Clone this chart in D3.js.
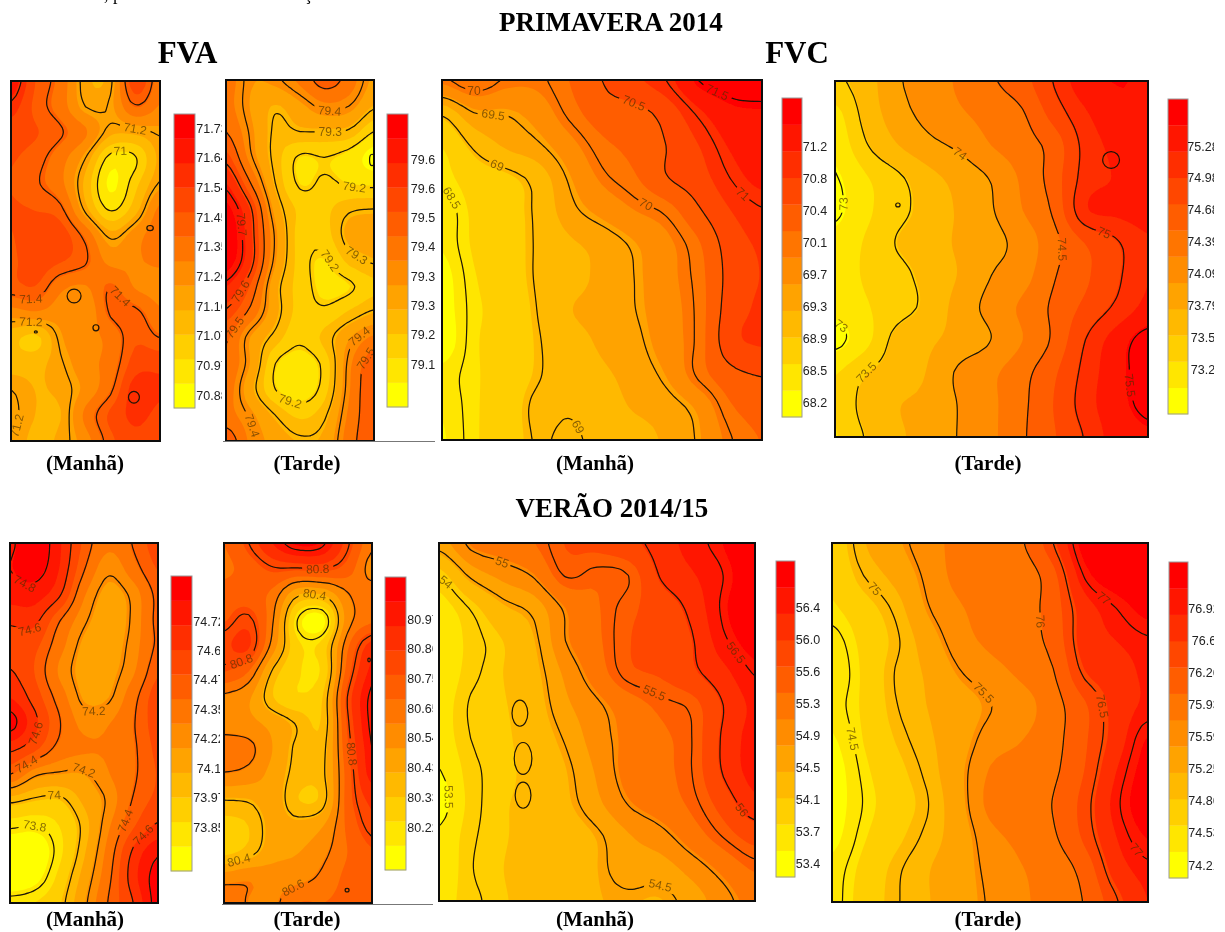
<!DOCTYPE html>
<html>
<head>
<meta charset="utf-8">
<script src="https://cdn.jsdelivr.net/npm/d3@7"></script>
<style>
  body { margin: 0; background: #fff; }
</style>
</head>
<body>
<script>
// colour bands of the legends, bottom to top
const bandColors = ['#ffff00', '#ffe600', '#ffcf00', '#ffb900', '#ffa300', '#ff8c00',
    '#ff7500', '#ff5d00', '#ff4600', '#ff2e00', '#ff1700', '#ff0000'];

// grids, top row first
const fvaManhaPrim = [
    71.68, 71.46, 71.36, 71.17, 71.18, 71.52, 71.34,
    71.58, 71.44, 71.35, 71.20, 71.21, 71.39, 71.30,
    71.50, 71.47, 71.41, 71.32, 71.17, 71.17, 71.21,
    71.47, 71.43, 71.34, 71.20, 70.97, 70.99, 71.17,
    71.46, 71.41, 71.33, 71.13, 70.90, 71.05, 71.21,
    71.47, 71.46, 71.42, 71.18, 70.99, 71.12, 71.33,
    71.46, 71.50, 71.50, 71.37, 71.18, 71.27, 71.36,
    71.45, 71.50, 71.47, 71.41, 71.28, 71.30, 71.32,
    71.44, 71.46, 71.33, 71.30, 71.40, 71.30, 71.28,
    71.27, 71.30, 71.26, 71.24, 71.41, 71.42, 71.32,
    71.10, 71.05, 71.22, 71.28, 71.33, 71.45, 71.40,
    71.12, 71.13, 71.19, 71.28, 71.34, 71.50, 71.52,
    71.20, 71.15, 71.17, 71.25, 71.38, 71.58, 71.55,
    71.22, 71.15, 71.15, 71.33, 71.48, 71.56, 71.52,
    71.20, 71.13, 71.17, 71.27, 71.44, 71.52, 71.48];
const fvaTardePrim = [
    79.47, 79.38, 79.39, 79.45, 79.53, 79.47, 79.36,
    79.46, 79.37, 79.31, 79.36, 79.42, 79.40, 79.31,
    79.50, 79.39, 79.29, 79.30, 79.30, 79.29, 79.20,
    79.58, 79.41, 79.28, 79.19, 79.20, 79.17, 79.10,
    79.68, 79.50, 79.30, 79.19, 79.21, 79.19, 79.18,
    79.76, 79.61, 79.35, 79.24, 79.24, 79.29, 79.30,
    79.80, 79.63, 79.39, 79.23, 79.23, 79.33, 79.34,
    79.78, 79.63, 79.38, 79.23, 79.19, 79.27, 79.31,
    79.68, 79.55, 79.33, 79.23, 79.18, 79.19, 79.24,
    79.59, 79.48, 79.33, 79.23, 79.21, 79.26, 79.31,
    79.51, 79.37, 79.28, 79.21, 79.27, 79.37, 79.45,
    79.49, 79.37, 79.20, 79.17, 79.22, 79.42, 79.54,
    79.47, 79.33, 79.20, 79.16, 79.23, 79.43, 79.56,
    79.46, 79.39, 79.30, 79.24, 79.29, 79.45, 79.55,
    79.55, 79.42, 79.35, 79.31, 79.33, 79.47, 79.55];
const fvcManhaPrim = [
    69.95, 70.20, 69.97, 69.95, 70.20, 70.50, 70.75, 71.00, 71.50, 71.65, 71.70,
    69.05, 69.50, 69.52, 69.70, 70.07, 70.35, 70.40, 70.62, 71.05, 71.35, 71.40,
    68.65, 69.05, 69.30, 69.46, 69.78, 70.12, 70.28, 70.50, 70.80, 71.15, 71.30,
    68.55, 68.80, 68.90, 69.10, 69.55, 69.93, 70.15, 70.48, 70.68, 71.00, 71.20,
    68.35, 68.70, 68.85, 69.05, 69.42, 69.65, 69.87, 70.05, 70.45, 70.80, 70.98,
    68.35, 68.68, 68.83, 69.03, 69.22, 69.35, 69.55, 69.80, 70.15, 70.65, 70.85,
    68.22, 68.62, 68.80, 69.03, 69.15, 69.33, 69.50, 69.78, 70.08, 70.60, 70.82,
    68.20, 68.58, 68.76, 69.01, 69.25, 69.35, 69.49, 69.75, 70.05, 70.65, 70.85,
    68.15, 68.60, 68.75, 68.98, 69.15, 69.30, 69.42, 69.72, 70.05, 70.70, 70.85,
    68.40, 68.60, 68.80, 68.98, 69.12, 69.22, 69.35, 69.58, 70.05, 70.40, 70.52,
    68.35, 68.60, 68.82, 69.05, 69.03, 69.15, 69.28, 69.38, 69.62, 70.15, 70.32,
    68.30, 68.60, 68.82, 69.02, 68.95, 69.10, 69.15, 69.30, 69.53, 69.97, 70.20];
const fvcTardePrim = [
    73.45, 73.65, 73.97, 74.10, 74.30, 74.47, 74.65, 75.02, 75.40, 75.48, 75.45,
    73.20, 73.60, 73.90, 74.08, 74.22, 74.35, 74.48, 74.85, 75.20, 75.42, 75.45,
    73.10, 73.48, 73.75, 73.93, 74.05, 74.25, 74.40, 74.60, 75.08, 75.30, 75.40,
    72.98, 73.25, 73.45, 73.68, 73.85, 74.02, 74.30, 74.62, 75.10, 75.25, 75.38,
    72.95, 73.22, 73.43, 73.60, 73.80, 73.98, 74.25, 74.55, 75.20, 75.28, 75.35,
    73.10, 73.30, 73.52, 73.65, 73.80, 73.92, 74.10, 74.42, 74.75, 74.97, 75.20,
    73.15, 73.30, 73.42, 73.60, 73.78, 74.00, 74.15, 74.48, 74.70, 74.95, 75.22,
    73.10, 73.25, 73.40, 73.58, 73.87, 74.08, 74.30, 74.55, 74.80, 75.05, 75.30,
    72.92, 73.20, 73.60, 73.72, 73.85, 74.00, 74.25, 74.55, 75.00, 75.35, 75.60,
    73.25, 73.50, 73.63, 73.78, 74.05, 74.20, 74.42, 74.70, 75.08, 75.40, 75.60,
    73.30, 73.60, 73.75, 73.82, 74.02, 74.20, 74.45, 74.75, 75.12, 75.40, 75.55,
    73.25, 73.52, 73.72, 73.85, 74.02, 74.20, 74.47, 74.72, 75.02, 75.35, 75.45];
const fvaManhaVer = [
    74.78, 74.88, 74.72, 74.47, 74.31, 74.41, 74.55,
    74.80, 74.85, 74.70, 74.41, 74.22, 74.35, 74.50,
    74.75, 74.75, 74.62, 74.30, 74.15, 74.23, 74.43,
    74.62, 74.63, 74.41, 74.22, 74.13, 74.22, 74.43,
    74.55, 74.52, 74.33, 74.16, 74.13, 74.24, 74.42,
    74.61, 74.49, 74.27, 74.15, 74.15, 74.27, 74.48,
    74.70, 74.55, 74.35, 74.17, 74.18, 74.36, 74.55,
    74.85, 74.63, 74.41, 74.25, 74.28, 74.39, 74.55,
    74.63, 74.52, 74.36, 74.30, 74.30, 74.38, 74.52,
    74.40, 74.22, 74.18, 74.18, 74.28, 74.38, 74.50,
    74.03, 73.98, 73.97, 74.10, 74.22, 74.41, 74.52,
    73.82, 73.80, 73.87, 74.03, 74.27, 74.48, 74.62,
    73.68, 73.68, 73.84, 74.06, 74.33, 74.62, 74.78,
    73.66, 73.72, 73.90, 74.12, 74.37, 74.66, 74.85,
    73.84, 73.87, 73.96, 74.17, 74.41, 74.60, 74.85];
const fvaTardeVer = [
    80.68, 80.80, 80.95, 81.05, 81.02, 80.82, 80.62,
    80.66, 80.72, 80.79, 80.79, 80.80, 80.73, 80.56,
    80.72, 80.72, 80.65, 80.42, 80.42, 80.59, 80.65,
    80.76, 80.82, 80.60, 80.19, 80.12, 80.55, 80.66,
    80.84, 80.87, 80.55, 80.26, 80.28, 80.66, 80.90,
    80.77, 80.68, 80.38, 80.25, 80.26, 80.72, 80.97,
    80.58, 80.52, 80.33, 80.25, 80.33, 80.80, 81.02,
    80.55, 80.53, 80.47, 80.39, 80.34, 80.78, 81.02,
    80.66, 80.63, 80.50, 80.38, 80.37, 80.75, 81.00,
    80.59, 80.56, 80.47, 80.37, 80.38, 80.72, 80.98,
    80.40, 80.41, 80.46, 80.33, 80.36, 80.72, 80.88,
    80.30, 80.33, 80.45, 80.44, 80.50, 80.70, 80.83,
    80.30, 80.36, 80.47, 80.50, 80.57, 80.68, 80.76,
    80.55, 80.58, 80.55, 80.56, 80.62, 80.70, 80.72,
    80.68, 80.59, 80.58, 80.68, 80.68, 80.70, 80.70];
const fvcManhaVer = [
    54.60, 55.08, 55.20, 55.35, 55.68, 55.75, 55.90, 56.12, 56.40, 56.60, 56.85,
    54.00, 54.55, 54.82, 55.03, 55.52, 55.42, 55.50, 56.02, 56.25, 56.50, 56.78,
    53.68, 54.02, 54.38, 54.58, 55.05, 55.33, 55.60, 55.80, 56.08, 56.55, 56.78,
    53.55, 53.90, 54.12, 54.42, 55.00, 55.30, 55.65, 55.80, 55.97, 56.45, 56.70,
    53.58, 53.93, 54.12, 54.35, 54.80, 55.20, 55.60, 55.70, 55.92, 56.20, 56.52,
    53.65, 54.03, 54.10, 54.30, 54.68, 54.95, 55.20, 55.42, 55.55, 56.00, 56.35,
    53.65, 54.00, 54.08, 54.25, 54.53, 54.88, 55.12, 55.30, 55.50, 56.05, 56.40,
    53.48, 53.93, 54.07, 54.20, 54.42, 54.78, 55.15, 55.28, 55.50, 56.03, 56.40,
    53.35, 53.90, 54.10, 54.18, 54.38, 54.68, 55.02, 55.20, 55.42, 55.80, 56.20,
    53.55, 53.95, 54.10, 54.20, 54.28, 54.45, 54.72, 54.90, 55.20, 55.52, 55.80,
    53.55, 53.98, 54.12, 54.22, 54.30, 54.43, 54.62, 54.62, 54.85, 55.13, 55.40,
    53.70, 53.93, 54.10, 54.20, 54.30, 54.42, 54.45, 54.42, 54.60, 54.90, 55.15];
const fvcTardeVer = [
    74.70, 75.15, 75.40, 75.62, 75.80, 75.85, 75.97, 76.50, 77.25, 77.30, 77.40,
    74.65, 75.00, 75.25, 75.55, 75.80, 75.85, 75.85, 76.20, 77.03, 77.30, 77.35,
    74.58, 74.78, 75.05, 75.47, 75.70, 75.82, 75.87, 76.15, 76.72, 77.00, 77.22,
    74.42, 74.68, 74.95, 75.30, 75.62, 75.78, 75.88, 76.10, 76.70, 76.85, 76.97,
    74.35, 74.65, 75.01, 75.20, 75.47, 75.63, 75.78, 75.98, 76.55, 76.72, 76.90,
    74.42, 74.65, 74.98, 75.17, 75.32, 75.49, 75.62, 75.88, 76.25, 76.68, 76.90,
    74.30, 74.62, 74.90, 75.12, 75.33, 75.60, 75.72, 75.90, 76.25, 76.70, 77.15,
    74.20, 74.55, 74.80, 75.05, 75.38, 75.75, 75.85, 75.95, 76.30, 76.85, 77.25,
    74.20, 74.51, 74.75, 74.98, 75.35, 75.80, 75.90, 76.01, 76.40, 76.95, 77.30,
    74.25, 74.58, 74.82, 75.05, 75.30, 75.65, 75.80, 75.96, 76.35, 76.85, 77.15,
    74.40, 74.68, 74.95, 75.15, 75.32, 75.57, 75.72, 75.83, 76.12, 76.70, 76.95,
    74.42, 74.72, 74.97, 75.15, 75.32, 75.53, 75.70, 75.80, 76.02, 76.47, 76.85];

// value range covered by each legend bar
const rangeFvaManhaPrim = [70.84, 71.775];
const rangeFvaTardePrim = [79.07, 79.80];
const rangeFvcManhaPrim = [68.02, 71.74];
const rangeFvcTardePrim = [72.78, 75.72];
const rangeFvaManhaVer = [73.66, 74.91];
const rangeFvaTardeVer = [80.065, 81.12];
const rangeFvcManhaVer = [53.2, 56.9];
const rangeFvcTardeVer = [74.05, 77.41];

// legend tick labels, top to bottom
const ticksFvaManhaPrim = ['71.73', '71.64', '71.54', '71.45', '71.35', '71.26', '71.16', '71.07', '70.97', '70.88'];
const ticksFvaTardePrim = ['79.6', '79.6', '79.5', '79.4', '79.3', '79.3', '79.2', '79.1'];
const ticksFvcManhaPrim = ['71.2', '70.8', '70.4', '70.1', '69.7', '69.3', '68.9', '68.5', '68.2'];
const ticksFvcTardePrim = ['75.28', '74.98', '74.68', '74.39', '74.09', '73.79', '73.5', '73.2'];
const ticksFvaManhaVer = ['74.72', '74.6', '74.47', '74.35', '74.22', '74.1', '73.97', '73.85'];
const ticksFvaTardeVer = ['80.97', '80.86', '80.75', '80.65', '80.54', '80.43', '80.33', '80.22'];
const ticksFvcManhaVer = ['56.4', '56.0', '55.6', '55.3', '54.9', '54.5', '54.1', '53.7', '53.4'];
const ticksFvcTardeVer = ['76.92', '76.6', '76.26', '75.93', '75.59', '75.25', '74.86', '74.53', '74.21'];

// levels of the black isolines
const linesFvaManhaPrim = [71, 71.2, 71.4, 71.6];
const linesFvaTardePrim = [79.2, 79.3, 79.4, 79.5, 79.6, 79.7];
const linesFvcManhaPrim = [68.5, 69, 69.5, 70, 70.5, 71, 71.5];
const linesFvcTardePrim = [73, 73.5, 74, 74.5, 75, 75.5];
const linesFvaManhaVer = [73.8, 74, 74.2, 74.4, 74.6, 74.8];
const linesFvaTardeVer = [80.2, 80.4, 80.6, 80.8, 81];
const linesFvcManhaVer = [53.5, 54, 54.5, 55, 55.5, 56, 56.5];
const linesFvcTardeVer = [74.5, 75, 75.5, 76, 76.5, 77];

// isoline labels: level, then grid column and row near where it sits
const spotsFvaManhaPrim = [[71.2, 4.95, 1.71], [71, 4.43, 2.8], [71.4, .77, 8.4], [71.2, .81, 9.3], [71.4, 4.31, 8.32], [71.2, .36, 13.4]];
const spotsFvaTardePrim = [[79.4, 4.09, 1.4], [79.3, 4.22, 2.09], [79.2, 5.27, 4.07], [79.3, 5.47, 6.47], [79.2, 4.13, 7.05], [79.7, .57, 5.7],
    [79.6, .49, 8.26], [79.5, .49, 9.69], [79.4, 1.26, 13.37], [79.2, 2.8, 12.13], [79.4, 5.43, 9.88], [79.5, 5.63, 10.78]];
const spotsFvcManhaPrim = [[70, 1.03, .52], [69.5, 1.5, 1], [69, 1.66, 2.69], [68.5, .19, 3.67], [70.5, 5.88, .73], [70, 6.25, 3.85],
    [71, 9.38, 3.52], [71.5, 8.56, .37], [69, 4.16, 10.7]];
const spotsFvcTardePrim = [[74, 4.12, 2.28], [74.5, 6.87, 5.15], [75, 8.56, 4.63], [73.5, .86, 8.98], [73, .1, 3.83], [73, .32, 7.28], [75.5, 9.8, 9.3]];
const spotsFvaManhaVer = [[74.8, .69, 1.32], [74.6, .73, 3.38], [74.2, 3.36, 6.5], [74.6, .93, 7.39], [74.4, .69, 8.63], [74.2, 2.92, 8.87],
    [74, 1.74, 9.8], [73.8, 1.05, 11.05], [74.4, 4.66, 10.77], [74.6, 5.47, 11.36]];
const spotsFvaTardeVer = [[80.8, 3.89, .93], [80.4, 3.69, 1.98], [80.8, .65, 4.55], [80.8, 5.11, 8.25], [80.4, .69, 12.4], [80.6, 2.84, 13.65]];
const spotsFvcManhaVer = [[55, 1.96, .65], [54, .35, 1.23], [55.5, 6.9, 4.58], [56.5, 9.37, 3.29], [56, 9.68, 8.06], [53.5, .16, 7.75], [54.5, 6.99, 10.49]];
const spotsFvcTardeVer = [[75, 1.33, 1.32], [77, 8.6, 1.75], [76, 6.68, 2.36], [75.5, 4.62, 4.79], [76.5, 8.45, 5], [74.5, .54, 6.1], [77, 9.65, 9.36]];

// closed isolines too small for the grid: column, row, half width, half height
const ringsFvaManhaPrim = [[2.54, 8.36, .28, .27], [3.42, 9.6, .12, .12], [5.6, 5.72, .13, .1], [4.95, 12.3, .22, .23], [1, 9.76, .06, .04]];
const ringsFvaTardePrim = [[5.92, 3.1, .1, .22]];
const ringsFvcTardePrim = [[8.82, 2.44, .27, .26], [2.01, 3.83, .07, .06]];
const ringsFvaTardeVer = [[4.99, 13.5, .08, .07], [5.88, 4.55, .05, .07]];
const ringsFvcManhaVer = [[2.56, 5.23, .25, .4], [2.66, 6.62, .28, .49], [2.66, 7.75, .25, .4]];

const panels = [
    { grid: fvaManhaPrim, cols: 7, box: [11, 81, 160, 441], bar: [174, 195, 114, 408], tickX: 212, clipX: 222, tickY: [128, 395], range: rangeFvaManhaPrim, ticks: ticksFvaManhaPrim, lines: linesFvaManhaPrim, spots: spotsFvaManhaPrim, rings: ringsFvaManhaPrim },
    { grid: fvaTardePrim, cols: 7, box: [226, 80, 374, 441], bar: [387, 408, 114, 407], tickX: 423, clipX: 436, tickY: [159, 364], range: rangeFvaTardePrim, ticks: ticksFvaTardePrim, lines: linesFvaTardePrim, spots: spotsFvaTardePrim, rings: ringsFvaTardePrim },
    { grid: fvcManhaPrim, cols: 11, box: [442, 80, 762, 440], bar: [782, 802, 98, 417], tickX: 815, clipX: 829, tickY: [146, 402], range: rangeFvcManhaPrim, ticks: ticksFvcManhaPrim, lines: linesFvcManhaPrim, spots: spotsFvcManhaPrim, rings: [] },
    { grid: fvcTardePrim, cols: 11, box: [835, 81, 1148, 437], bar: [1168, 1188, 99, 414], tickX: 1203, clipX: 1214, tickY: [146, 369], range: rangeFvcTardePrim, ticks: ticksFvcTardePrim, lines: linesFvcTardePrim, spots: spotsFvcTardePrim, rings: ringsFvcTardePrim },
    { grid: fvaManhaVer, cols: 7, box: [10, 543, 158, 903], bar: [171, 192, 576, 871], tickX: 209, clipX: 220, tickY: [621, 827], range: rangeFvaManhaVer, ticks: ticksFvaManhaVer, lines: linesFvaManhaVer, spots: spotsFvaManhaVer, rings: [] },
    { grid: fvaTardeVer, cols: 7, box: [224, 543, 372, 903], bar: [385, 406, 577, 870], tickX: 423, clipX: 433, tickY: [619, 827], range: rangeFvaTardeVer, ticks: ticksFvaTardeVer, lines: linesFvaTardeVer, spots: spotsFvaTardeVer, rings: ringsFvaTardeVer },
    { grid: fvcManhaVer, cols: 11, box: [439, 543, 755, 901], bar: [776, 795, 561, 877], tickX: 808, clipX: 822, tickY: [607, 863], range: rangeFvcManhaVer, ticks: ticksFvcManhaVer, lines: linesFvcManhaVer, spots: spotsFvcManhaVer, rings: ringsFvcManhaVer },
    { grid: fvcTardeVer, cols: 11, box: [832, 543, 1148, 902], bar: [1169, 1188, 562, 878], tickX: 1204, clipX: 1214, tickY: [608, 865], range: rangeFvcTardeVer, ticks: ticksFvcTardeVer, lines: linesFvcTardeVer, spots: spotsFvcTardeVer, rings: [] }
];

const svg = d3.select('body').append('svg')
    .attr('width', 1225)
    .attr('height', 932);

const defs = svg.append('defs');
defs.append('filter').attr('id', 'soft')
    .attr('filterUnits', 'userSpaceOnUse')
    .attr('x', 0).attr('y', 0).attr('width', 1225).attr('height', 932)
    .append('feGaussianBlur').attr('stdDeviation', 0.55);

const root = svg.append('g').attr('filter', 'url(#soft)');

const FINE = 5;   // contour cells per grid cell
const PAD = 2;    // fine cells kept outside the frame so isolines leave it cleanly

const cubic = (a, b, c, d, t) =>
    b + 0.5 * t * (c - a + t * (2 * a - 5 * b + 4 * c - d + t * (3 * (b - c) + d - a)));

// smooth surface through the values, only for tracing contours
const traceSurface = (grid, cols) => {
    const rows = grid.length / cols;
    const at = (r, c) => grid[Math.max(0, Math.min(rows - 1, r)) * cols + Math.max(0, Math.min(cols - 1, c))];
    const w = (cols - 1) * FINE + 1 + 2 * PAD;
    const h = (rows - 1) * FINE + 1 + 2 * PAD;
    const values = [];
    for (let j = 0; j < h; j++) {
        const fy = Math.max(0, Math.min(rows - 1, (j - PAD) / FINE));
        const r = Math.min(rows - 2, Math.floor(fy));
        for (let i = 0; i < w; i++) {
            const fx = Math.max(0, Math.min(cols - 1, (i - PAD) / FINE));
            const c = Math.min(cols - 2, Math.floor(fx));
            const across = [-1, 0, 1, 2].map(k =>
                cubic(at(r + k, c - 1), at(r + k, c), at(r + k, c + 1), at(r + k, c + 2), fx - c));
            values.push(cubic(across[0], across[1], across[2], across[3], fy - r));
        }
    }
    return { values, w, h };
};

panels.forEach((p, idx) => {
    const [x0, y0, x1, y1] = p.box;
    const rows = p.grid.length / p.cols;
    const xScale = d3.scaleLinear().domain([0, p.cols - 1]).range([x0, x1]);
    const yScale = d3.scaleLinear().domain([0, rows - 1]).range([y0, y1]);

    const surface = traceSurface(p.grid, p.cols);
    const contours = d3.contours().size([surface.w, surface.h]).smooth(true);

    // contour points sit half a fine cell in, plus the padding
    const toPx = pt => [xScale((pt[0] - 0.5 - PAD) / FINE), yScale((pt[1] - 0.5 - PAD) / FINE)];
    const ringPath = d3.line().curve(d3.curveBasisClosed);
    const pathOf = shape => shape.coordinates
        .flatMap(poly => poly.map(ring => ringPath(ring.slice(0, -1).map(toPx))))
        .join('');

    defs.append('clipPath').attr('id', `clip${idx}`)
        .append('rect').attr('x', x0).attr('y', y0).attr('width', x1 - x0).attr('height', y1 - y0);

    const map = root.append('g').attr('clip-path', `url(#clip${idx})`);

    // filled bands
    const bandStep = (p.range[1] - p.range[0]) / bandColors.length;
    map.append('rect')
        .attr('x', x0).attr('y', y0).attr('width', x1 - x0).attr('height', y1 - y0)
        .attr('fill', bandColors[0]);
    map.selectAll('path.band')
        .data(bandColors.slice(1))
        .join('path')
        .attr('class', 'band')
        .attr('fill', d => d)
        .attr('fill-rule', 'evenodd')
        .attr('d', (d, i) => pathOf(contours.contour(surface.values, p.range[0] + (i + 1) * bandStep)));

    // labels, each placed on the nearest stretch of its isoline
    const mask = defs.append('mask').attr('id', `gaps${idx}`)
        .attr('maskUnits', 'userSpaceOnUse')
        .attr('x', x0).attr('y', y0).attr('width', x1 - x0).attr('height', y1 - y0);
    mask.append('rect')
        .attr('x', x0).attr('y', y0).attr('width', x1 - x0).attr('height', y1 - y0)
        .attr('fill', 'white');

    const placed = [];
    p.spots.forEach(([level, col, row]) => {
        const sx = xScale(col);
        const sy = yScale(row);
        let best = null;
        contours.contour(surface.values, level).coordinates.forEach(poly => poly.forEach(ring => {
            const pts = ring.slice(0, -1).map(toPx);
            const n = pts.length;
            pts.forEach((q, i) => {
                const dist = (q[0] - sx) ** 2 + (q[1] - sy) ** 2;
                if (!best || dist < best.dist) {
                    const a = pts[(i - 3 + n) % n];
                    const b = pts[(i + 3) % n];
                    let angle = Math.atan2(b[1] - a[1], b[0] - a[0]) * 180 / Math.PI;
                    if (angle > 90) angle -= 180;
                    if (angle < -90) angle += 180;
                    best = { dist, x: q[0], y: q[1], angle };
                }
            });
        }));
        if (best) placed.push({ level, ...best });
    });

    mask.selectAll('rect.gap')
        .data(placed)
        .join('rect')
        .attr('class', 'gap')
        .attr('x', d => -(String(d.level).length * 3.4 + 2))
        .attr('y', -6)
        .attr('width', d => 2 * (String(d.level).length * 3.4 + 2))
        .attr('height', 12)
        .attr('fill', 'black')
        .attr('transform', d => `translate(${d.x},${d.y}) rotate(${d.angle})`);

    // black isolines
    const lineGroup = map.append('g').attr('mask', `url(#gaps${idx})`);
    lineGroup.selectAll('path')
        .data(p.lines)
        .join('path')
        .attr('fill', 'none')
        .attr('stroke', '#1a1208')
        .attr('stroke-width', 1.2)
        .attr('d', d => pathOf(contours.contour(surface.values, d)));

    map.selectAll('ellipse')
        .data(p.rings)
        .join('ellipse')
        .attr('cx', d => xScale(d[0]))
        .attr('cy', d => yScale(d[1]))
        .attr('rx', d => xScale(d[2]) - xScale(0))
        .attr('ry', d => yScale(d[3]) - yScale(0))
        .attr('fill', 'none')
        .attr('stroke', '#1a1208')
        .attr('stroke-width', 1.2);

    map.selectAll('text')
        .data(placed)
        .join('text')
        .attr('transform', d => `translate(${d.x},${d.y}) rotate(${d.angle})`)
        .attr('text-anchor', 'middle')
        .attr('dy', '0.35em')
        .style('font', '12px "Liberation Sans"')
        .attr('fill', '#4a3000')
        .attr('fill-opacity', 0.65)
        .text(d => d.level);

    root.append('rect')
        .attr('x', x0).attr('y', y0).attr('width', x1 - x0).attr('height', y1 - y0)
        .attr('fill', 'none')
        .attr('stroke', '#111')
        .attr('stroke-width', 2);

    // legend bar
    const [bx0, bx1, by0, by1] = p.bar;
    const barScale = d3.scaleLinear().domain(p.range).range([by1, by0]);
    root.append('g').selectAll('rect')
        .data(bandColors)
        .join('rect')
        .attr('x', bx0)
        .attr('width', bx1 - bx0)
        .attr('y', (d, i) => barScale(p.range[0] + (i + 1) * bandStep))
        .attr('height', (by1 - by0) / bandColors.length + 0.3)
        .attr('fill', d => d);
    root.append('rect')
        .attr('x', bx0).attr('y', by0).attr('width', bx1 - bx0).attr('height', by1 - by0)
        .attr('fill', 'none')
        .attr('stroke', '#999')
        .attr('stroke-width', 1);

    // tick labels are cut by the edge of the cropped legend image
    defs.append('clipPath').attr('id', `tickClip${idx}`)
        .append('rect').attr('x', bx1).attr('y', by0).attr('width', p.clipX - bx1).attr('height', by1 - by0);
    const tickScale = d3.scalePoint().domain(d3.range(p.ticks.length)).range(p.tickY);
    const axis = root.append('g')
        .attr('clip-path', `url(#tickClip${idx})`)
        .append('g')
        .attr('transform', `translate(${p.tickX},0)`)
        .call(d3.axisRight(tickScale).tickSize(0).tickPadding(0).tickFormat(i => p.ticks[i]));
    axis.select('.domain').remove();
    axis.selectAll('text')
        .attr('text-anchor', 'middle')
        .style('font', '12.5px "Liberation Sans"')
        .attr('fill', '#222');
});

// thin leftovers under the FVA tarde maps
root.selectAll('line.rule')
    .data([[223, 435, 441.5], [222, 433, 904.5]])
    .join('line')
    .attr('class', 'rule')
    .attr('x1', d => d[0]).attr('x2', d => d[1])
    .attr('y1', d => d[2]).attr('y2', d => d[2])
    .attr('stroke', '#777');

const titles = [
    ['PRIMAVERA 2014', 611, 31, 27],
    ['VERÃO 2014/15', 612, 517, 27],
    ['FVA', 187.5, 63, 31],
    ['FVC', 797, 63, 31],
    ['(Manhã)', 85, 470, 21],
    ['(Tarde)', 307, 470, 21],
    ['(Manhã)', 595, 470, 21],
    ['(Tarde)', 988, 470, 21],
    ['(Manhã)', 85, 926, 21],
    ['(Tarde)', 307, 926, 21],
    ['(Manhã)', 595, 926, 21],
    ['(Tarde)', 988, 926, 21]
];
root.selectAll('text.title')
    .data(titles)
    .join('text')
    .attr('class', 'title')
    .attr('x', d => d[1])
    .attr('y', d => d[2])
    .attr('text-anchor', 'middle')
    .style('font', d => `bold ${d[3]}px "Liberation Serif"`)
    .attr('fill', '#000')
    .text(d => d[0]);

// the line of body text above is cut off by the top of the picture
root.selectAll('text.cut')
    .data([[', p', 104], ['ç', 304]])
    .join('text')
    .attr('class', 'cut')
    .attr('x', d => d[1])
    .attr('y', 0)
    .style('font', '18px "Liberation Serif"')
    .text(d => d[0]);
</script>
</body>
</html>
